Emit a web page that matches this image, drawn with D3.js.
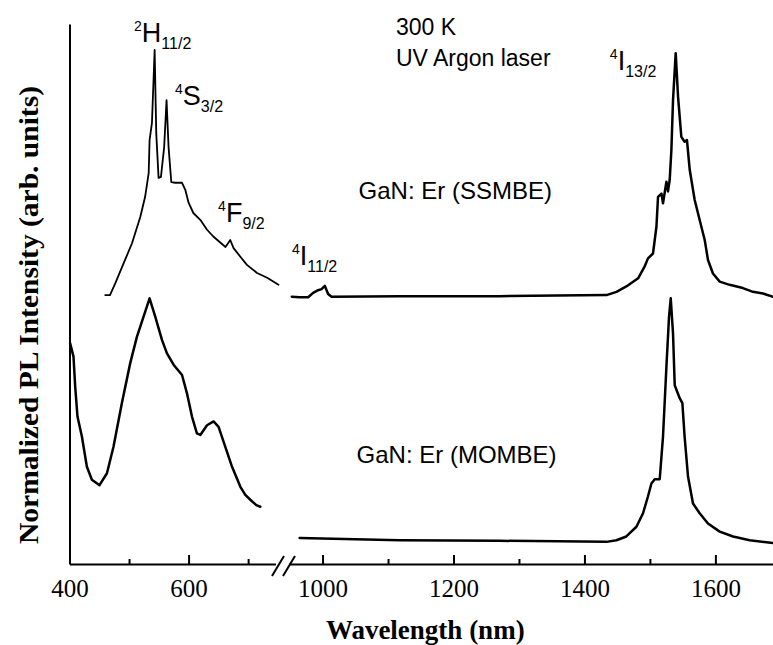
<!DOCTYPE html>
<html>
<head>
<meta charset="utf-8">
<script src="https://cdn.jsdelivr.net/npm/d3@7"></script>
<style>
body { margin: 0; background: #fff; }
svg { display: block; }
.curve { fill: none; stroke: #000; stroke-linejoin: round; stroke-linecap: round; }
.axis path, .axis line { stroke: #000; stroke-width: 2; }
.axis text { font-family: "Liberation Serif", "Times New Roman", serif; font-size: 25px; fill: #000; }
.note { font-family: "Liberation Sans", Arial, sans-serif; fill: #000; }
.title { font-family: "Liberation Serif", "Times New Roman", serif; font-weight: bold; font-size: 27px; fill: #000; }
</style>
</head>
<body>
<svg width="773" height="645"></svg>
<script>
// visible part of the spectrum (left of the break)
var ssVisWl = [460, 468, 477, 491, 505, 519, 527, 533, 534.5, 538.5, 543, 545.7, 549.6, 553.6, 559, 563, 566.4, 571, 577.6, 589, 594.5, 600, 608, 620, 631, 642, 662, 670, 675.6, 687, 698, 715, 732, 751];
var ssVisI  = [0.498, 0.498, 0.520, 0.557, 0.594, 0.643, 0.680, 0.724, 0.785, 0.817, 0.952, 0.798, 0.715, 0.717, 0.772, 0.859, 0.772, 0.707, 0.706, 0.706, 0.693, 0.669, 0.650, 0.637, 0.619, 0.606, 0.587, 0.600, 0.585, 0.569, 0.554, 0.539, 0.530, 0.517];
var moVisWl = [401, 406.7, 409.6, 413.4, 420.8, 429.2, 437.6, 450.4, 462.9, 473.9, 488, 502, 513.3, 524.4, 534.5, 544, 555.3, 563.7, 574.8, 589, 597.3, 605.7, 614, 619.7, 631, 642, 650.4, 661.7, 673, 687, 695.3, 703.7, 713.8, 720.5];
var moVisI  = [0.409, 0.384, 0.328, 0.273, 0.236, 0.180, 0.156, 0.146, 0.168, 0.217, 0.298, 0.372, 0.421, 0.458, 0.492, 0.458, 0.415, 0.390, 0.369, 0.350, 0.316, 0.273, 0.242, 0.239, 0.257, 0.264, 0.254, 0.217, 0.180, 0.143, 0.128, 0.119, 0.109, 0.106];

// infrared part (right of the break)
var ssIrWl = [953, 965, 978, 985.6, 993.3, 998.5, 1003.5, 1008.5, 1013.7, 1118, 1270, 1433.6, 1449, 1464, 1482, 1492, 1497, 1504.7, 1510, 1512.4, 1517.6, 1520, 1525.2, 1527.6, 1530.2, 1532.8, 1535.3, 1539.4, 1543, 1548, 1553, 1556.6, 1560.8, 1568.4, 1576, 1583.7, 1588.7, 1596.3, 1606.6, 1621.8, 1642, 1657.4, 1672.7, 1688];
var ssIrI  = [0.495, 0.494, 0.494, 0.502, 0.507, 0.509, 0.515, 0.500, 0.495, 0.496, 0.496, 0.498, 0.504, 0.514, 0.529, 0.551, 0.566, 0.575, 0.625, 0.680, 0.686, 0.668, 0.708, 0.690, 0.711, 0.767, 0.859, 0.946, 0.865, 0.791, 0.782, 0.785, 0.730, 0.674, 0.637, 0.600, 0.563, 0.538, 0.523, 0.517, 0.511, 0.504, 0.501, 0.495];
var moIrWl = [965, 1118, 1270, 1433.6, 1449, 1464, 1479.4, 1489.5, 1497, 1502.3, 1507.3, 1515, 1520, 1525.2, 1529.2, 1531.8, 1535.3, 1537.9, 1545.5, 1549.6, 1553, 1558.2, 1565.8, 1576, 1588.7, 1606.6, 1627, 1652.4, 1688];
var moIrI  = [0.048, 0.044, 0.043, 0.041, 0.044, 0.051, 0.069, 0.094, 0.125, 0.149, 0.157, 0.157, 0.236, 0.365, 0.458, 0.492, 0.427, 0.331, 0.307, 0.298, 0.236, 0.162, 0.112, 0.094, 0.075, 0.060, 0.051, 0.044, 0.039];

var leftMajor = [400, 600], leftMinor = [500, 700];
var rightMajor = [1000, 1200, 1400, 1600], rightMinor = [1100, 1300, 1500];

var svg = d3.select("svg");
var axisY = 564;

var xL = d3.scaleLinear().domain([400, 746]).range([69.5, 275.5]);
var xR = d3.scaleLinear().domain([948, 1688]).range([288.5, 773]);
var y = d3.scaleLinear().domain([0, 1]).range([axisY, 24]);

function drawCurve(x, wl, val, w) {
  var line = d3.line().x(function(d) { return x(d[0]); }).y(function(d) { return y(d[1]); });
  svg.append("path").attr("class", "curve").attr("stroke-width", w).attr("d", line(d3.zip(wl, val)));
}
drawCurve(xL, ssVisWl, ssVisI, 1.8);
drawCurve(xL, moVisWl, moVisI, 2.5);
drawCurve(xR, ssIrWl, ssIrI, 2.5);
drawCurve(xR, moIrWl, moIrI, 2.5);

// x axis in two pieces, ticks pointing up
function drawAxis(x, major, minor) {
  svg.append("g").attr("class", "axis")
     .attr("transform", "translate(0," + axisY + ")")
     .call(d3.axisBottom(x).tickValues(major).tickSize(-9).tickSizeOuter(0).tickPadding(15).tickFormat(d3.format("d")));
  var m = svg.append("g").attr("class", "axis")
     .attr("transform", "translate(0," + axisY + ")")
     .call(d3.axisBottom(x).tickValues(minor).tickSize(-5).tickSizeOuter(0).tickFormat(""));
  m.select(".domain").remove();
}
drawAxis(xL, leftMajor, leftMinor);
drawAxis(xR, rightMajor, rightMinor);

// y axis: plain line, no ticks
svg.append("g").attr("class", "axis")
   .attr("transform", "translate(" + xL.range()[0] + ",0)")
   .call(d3.axisLeft(y).tickValues([]).tickSizeOuter(0));

// break marks
var xb = (xL.range()[1] + xR.range()[0]) / 2;
[0, 11].forEach(function(k) {
  svg.append("line")
     .attr("x1", xb - 10 + k).attr("y1", axisY + 12)
     .attr("x2", xb + 2 + k).attr("y2", axisY - 8)
     .attr("stroke", "#000").attr("stroke-width", 2);
});

// axis titles
svg.append("text").attr("class", "title")
   .attr("x", (xL.range()[0] + xR.range()[1]) / 2 + 4).attr("y", 639)
   .attr("text-anchor", "middle").text("Wavelength (nm)");
svg.append("text").attr("class", "title")
   .attr("font-size", 28)
   .attr("textLength", 458).attr("lengthAdjust", "spacingAndGlyphs")
   .attr("transform", "translate(38,315) rotate(-90)")
   .attr("text-anchor", "middle").text("Normalized PL Intensity (arb. units)");

// level labels
function level(x, yb, sup, main, sub) {
  var t = svg.append("text").attr("class", "note").attr("x", x).attr("y", yb - 11);
  t.append("tspan").attr("font-size", 14).text(sup);
  t.append("tspan").attr("font-size", 27).attr("dy", 11).text(main);
  t.append("tspan").attr("font-size", 16).attr("dy", 7).text(sub);
}
level(xL(508.4), y(0.967), "2", "H", "11/2");
level(xL(577.3), y(0.850), "4", "S", "3/2");
level(xL(649.6), y(0.633), "4", "F", "9/2");
level(xR(953.3), y(0.554), "4", "I", "11/2");
level(xR(1438.8), y(0.915), "4", "I", "13/2");

function note(x, yb, s, size) {
  svg.append("text").attr("class", "note").attr("font-size", size)
     .attr("x", x).attr("y", yb).text(s);
}
note(xR(1112), y(0.980), "300 K", 23);
note(xR(1112), y(0.922), "UV Argon laser", 23);
note(xR(1055), y(0.676), "GaN: Er (SSMBE)", 24);
note(xR(1052), y(0.187), "GaN: Er (MOMBE)", 24);
</script>
</body>
</html>
